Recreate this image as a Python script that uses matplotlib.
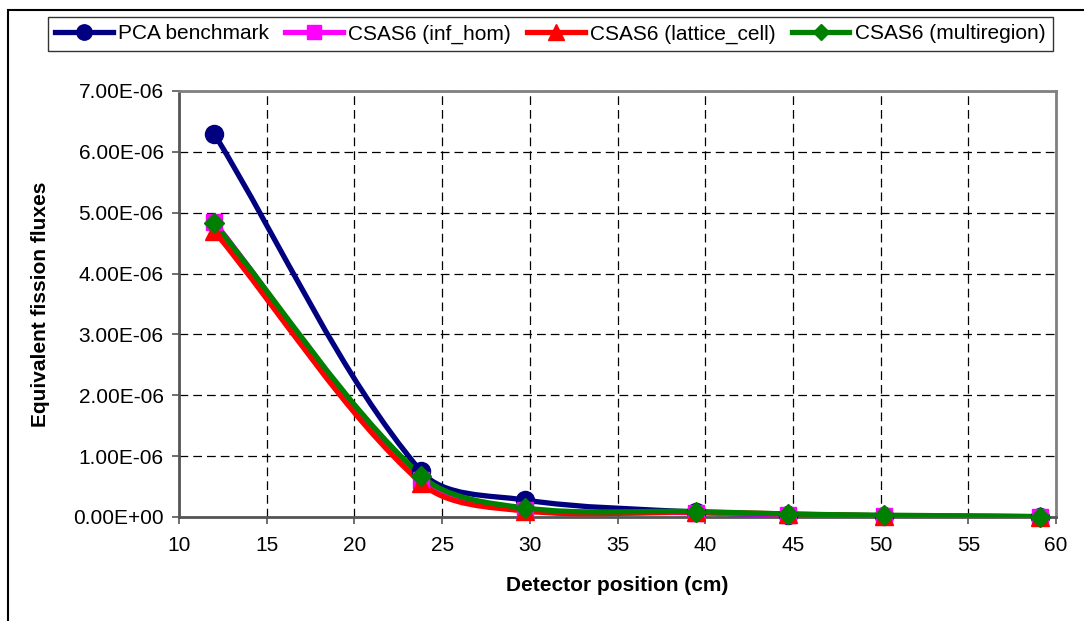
import numpy as np
import matplotlib.pyplot as plt
from matplotlib.path import Path
from matplotlib.patches import PathPatch, Rectangle
from matplotlib.lines import Line2D
from matplotlib.ticker import FuncFormatter, MultipleLocator

plt.rcParams['font.family'] = ['Liberation Sans', 'DejaVu Sans']

# detector positions (cm)
positions = [12.0, 23.8, 29.7, 39.5, 44.7, 50.2, 59.1]

# equivalent fission fluxes
pca_benchmark = [6.30e-06, 0.75e-06, 0.28e-06, 0.08e-06, 0.04e-06, 0.02e-06, 0.005e-06]
csas6_inf_hom = [4.85e-06, 0.60e-06, 0.12e-06, 0.07e-06, 0.04e-06, 0.02e-06, 0.005e-06]
csas6_lattice_cell = [4.70e-06, 0.56e-06, 0.10e-06, 0.08e-06, 0.05e-06, 0.02e-06, 0.005e-06]
csas6_multiregion = [4.83e-06, 0.68e-06, 0.15e-06, 0.09e-06, 0.05e-06, 0.03e-06, 0.008e-06]

series = [
    ('PCA benchmark', pca_benchmark, '#000080', 'o', 13),
    ('CSAS6 (inf_hom)', csas6_inf_hom, '#FF00FF', 's', 12),
    ('CSAS6 (lattice_cell)', csas6_lattice_cell, '#FF0000', '^', 13),
    ('CSAS6 (multiregion)', csas6_multiregion, '#008000', 'D', 10),
]

XLIM = (10, 60)
YLIM = (0, 7e-06)
FS = 15


def smooth_path(x, y, sx, sy, f=1.0 / 3.0):
    # Excel-like smoothed line: cubic Bezier through the points,
    # tangents weighted by segment lengths measured on screen
    x = np.asarray(x, float)
    y = np.asarray(y, float)
    n = len(x)

    def dist(i, j):
        return np.hypot((x[j] - x[i]) * sx, (y[j] - y[i]) * sy)

    verts = [(x[0], y[0])]
    codes = [Path.MOVETO]
    for i in range(n - 1):
        i0 = max(i - 1, 0)
        i3 = min(i + 2, n - 1)
        d01, d12, d23 = dist(i0, i), dist(i, i + 1), dist(i + 1, i3)
        k1 = f * d12 / (d01 + d12)
        k2 = f * d12 / (d12 + d23)
        c1 = (x[i] + (x[i + 1] - x[i0]) * k1, y[i] + (y[i + 1] - y[i0]) * k1)
        c2 = (x[i + 1] - (x[i3] - x[i]) * k2, y[i + 1] - (y[i3] - y[i]) * k2)
        verts += [c1, c2, (x[i + 1], y[i + 1])]
        codes += [Path.CURVE4] * 3
    return Path(verts, codes)


fig = plt.figure(figsize=(10.84, 6.21), dpi=100)
ax = fig.add_axes([179 / 1084, 1 - 517 / 621, (1056 - 179) / 1084, (517 - 91) / 621])

# pixels per data unit, for the smoothing weights
sx = (1056 - 179) / (XLIM[1] - XLIM[0])
sy = (517 - 91) / (YLIM[1] - YLIM[0])

handles = []
for i, (name, vals, color, marker, ms) in enumerate(series):
    ax.add_patch(PathPatch(smooth_path(positions, vals, sx, sy), facecolor='none',
                           edgecolor=color, lw=3.8, zorder=3 + i, capstyle='round'))
    ax.plot(positions, vals, linestyle='none', marker=marker, markersize=ms,
            color=color, markeredgecolor=color, zorder=10 + i, clip_on=False)
    handles.append(Line2D([], [], color=color, lw=3.8, marker=marker,
                          markersize=ms * 0.85, markeredgecolor=color))

ax.set_xlim(*XLIM)
ax.set_ylim(*YLIM)
ax.xaxis.set_major_locator(MultipleLocator(5))
ax.yaxis.set_major_locator(MultipleLocator(1e-06))
ax.yaxis.set_major_formatter(FuncFormatter(lambda v, p: f'{v:.2E}'))
ax.grid(True, color='black', linestyle=(0, (7, 4)), linewidth=0.9)
ax.set_axisbelow(True)

for s in ['left', 'bottom']:
    ax.spines[s].set_color('#555555')
    ax.spines[s].set_linewidth(2)
for s in ['top', 'right']:
    ax.spines[s].set_color('#808080')
    ax.spines[s].set_linewidth(2)

ax.tick_params(axis='both', labelsize=FS, colors='#555555', labelcolor='black',
               length=5, width=1.2)
ax.tick_params(axis='x', pad=9)
ax.tick_params(axis='y', pad=6)

ax.set_xlabel('Detector position (cm)', fontsize=FS, fontweight='bold')
ax.set_ylabel('Equivalent fission fluxes', fontsize=FS, fontweight='bold')
ax.xaxis.set_label_coords(0.5, -0.138)
ax.yaxis.set_label_coords(-0.147, 0.5)

fig.legend(handles, [s[0] for s in series], loc='upper left',
           bbox_to_anchor=(48 / 1084, 1 - 17 / 621), ncol=4, fontsize=FS,
           frameon=True, fancybox=False, edgecolor='#333333', framealpha=1,
           handlelength=2.75, handletextpad=0.25, columnspacing=0.8,
           borderpad=0.35, borderaxespad=0)

fig.patches.append(Rectangle((8 / 1084, -0.05), 1.1, 1 - 10 / 621 + 0.05,
                             transform=fig.transFigure, fill=False,
                             edgecolor='black', lw=1.5))

fig.savefig('out.png', dpi=100)
